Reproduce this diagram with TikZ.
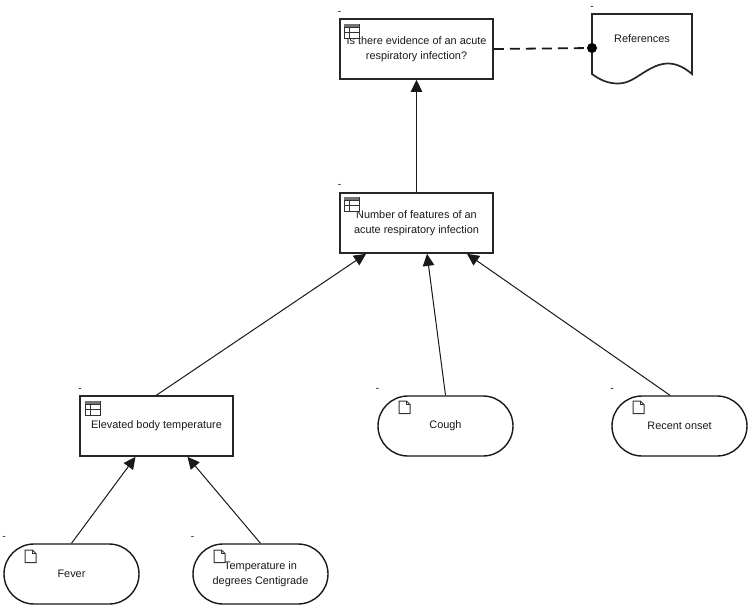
\documentclass[tikz,border=0pt]{standalone}
\usepackage{fontspec}
\setmainfont{Liberation Sans}
\usetikzlibrary{arrows.meta,calc}
\tikzset{
  x=1pt,y=-1pt,
  every node/.style={font=\fontsize{10.9}{15}\selectfont,text=black!90,inner sep=0pt,align=center},
  boxnode/.style={draw=black!85,line width=1.7pt,fill=white,minimum width=153pt,minimum height=60pt},
  pillnode/.style={draw=black!90,line width=1.4pt,fill=white,rounded corners=30pt,minimum width=135pt,minimum height=60pt},
  docshape/.style={draw=black!85,line width=1.7pt,fill=white},
  tick/.style={font=\fontsize{10}{10}\selectfont,text=black},
  link/.style={draw=black!90,line width=1pt,-{Triangle[length=12pt,width=11.5pt]}},
  reflink/.style={draw=black!90,line width=1.8pt,dash pattern=on 10pt off 6pt},
  iconline/.style={draw=black!80,line width=1pt,fill=white},
}
\newcommand{\tableicon}[2]{%
  \begin{scope}[shift={(#1,#2)}]
    \draw[iconline] (0,0) rectangle (15,14);
    \fill[black!55] (0,0) rectangle (15,3.5);
    \draw[iconline,fill=none] (0,3.5) -- (15,3.5) (0,8.5) -- (15,8.5) (5,3.5) -- (5,14);
  \end{scope}}
\newcommand{\docicon}[2]{%
  \begin{scope}[shift={(#1,#2)}]
    \draw[iconline] (0,0) -- (7.5,0) -- (11,3.5) -- (11,12.5) -- (0,12.5) -- cycle;
    \draw[iconline,fill=none] (7.5,0) -- (7.5,3.5) -- (11,3.5);
  \end{scope}}
\begin{document}
\begin{tikzpicture}
\useasboundingbox (0,0) rectangle (750,606);
\fill[white] (0,0) rectangle (750,606);

% document shape
\draw[docshape] (592,14) -- (692,14) -- (692,74)
  .. controls (685,68) and (677,63.5) .. (668,63.5)
  .. controls (659,63.5) and (651,68) .. (643,73)
  .. controls (635,78) and (628,83.5) .. (618,83.5)
  .. controls (608,83.5) and (600,80) .. (592,74) -- cycle;
\node (refs) at (642,38.5) {References};
\coordinate (docpin) at (592,48);

% boxes
\node[boxnode] (evid) at (416.5,49) {Is there evidence of an acute\\respiratory infection?};
\node[boxnode] (feat) at (416.5,223) {Number of features of an\\acute respiratory infection};
\node[boxnode] (elev) at (156.5,426) {Elevated body temperature};
\node[pillnode] (cough) at (445.5,426) {Cough};
\node[pillnode] (onset) at (679.5,426) {Recent onset};
\node[pillnode] (fever) at (71.5,574) {Fever};
\node[pillnode] (tempc) at (260.5,574) {Temperature in\\degrees Centigrade};

% connectors
\draw[reflink] (evid.east) -- (docpin);
\fill[black] (docpin) circle (5pt);
\draw[link] (feat.north) -- (evid.south);
\draw[link] (elev.north) -- ($(feat.south)+(-50.5,0)$);
\draw[link] (cough.north) -- ($(feat.south)+(10.5,0)$);
\draw[link] ($(onset.north)+(-9.5,0)$) -- ($(feat.south)+(50.5,0)$);
\draw[link] (fever.north) -- ($(elev.south)+(-21,0)$);
\draw[link] (tempc.north) -- ($(elev.south)+(31,0)$);

% icons
\tableicon{344}{24}
\tableicon{344}{197}
\tableicon{85}{401}
\docicon{399}{401}
\docicon{633}{401}
\docicon{25}{550}
\docicon{214}{550}

% tick marks
\node[tick] (t1) at (339.5,12.5) {-};
\node[tick] (t2) at (339.5,186) {-};
\node[tick] (t3) at (80,389.5) {-};
\node[tick] (t4) at (377.5,389.5) {-};
\node[tick] (t5) at (612,389.5) {-};
\node[tick] (t6) at (4,538) {-};
\node[tick] (t7) at (192.5,538) {-};
\node[tick] (t8) at (592,8) {-};
\end{tikzpicture}
\end{document}
